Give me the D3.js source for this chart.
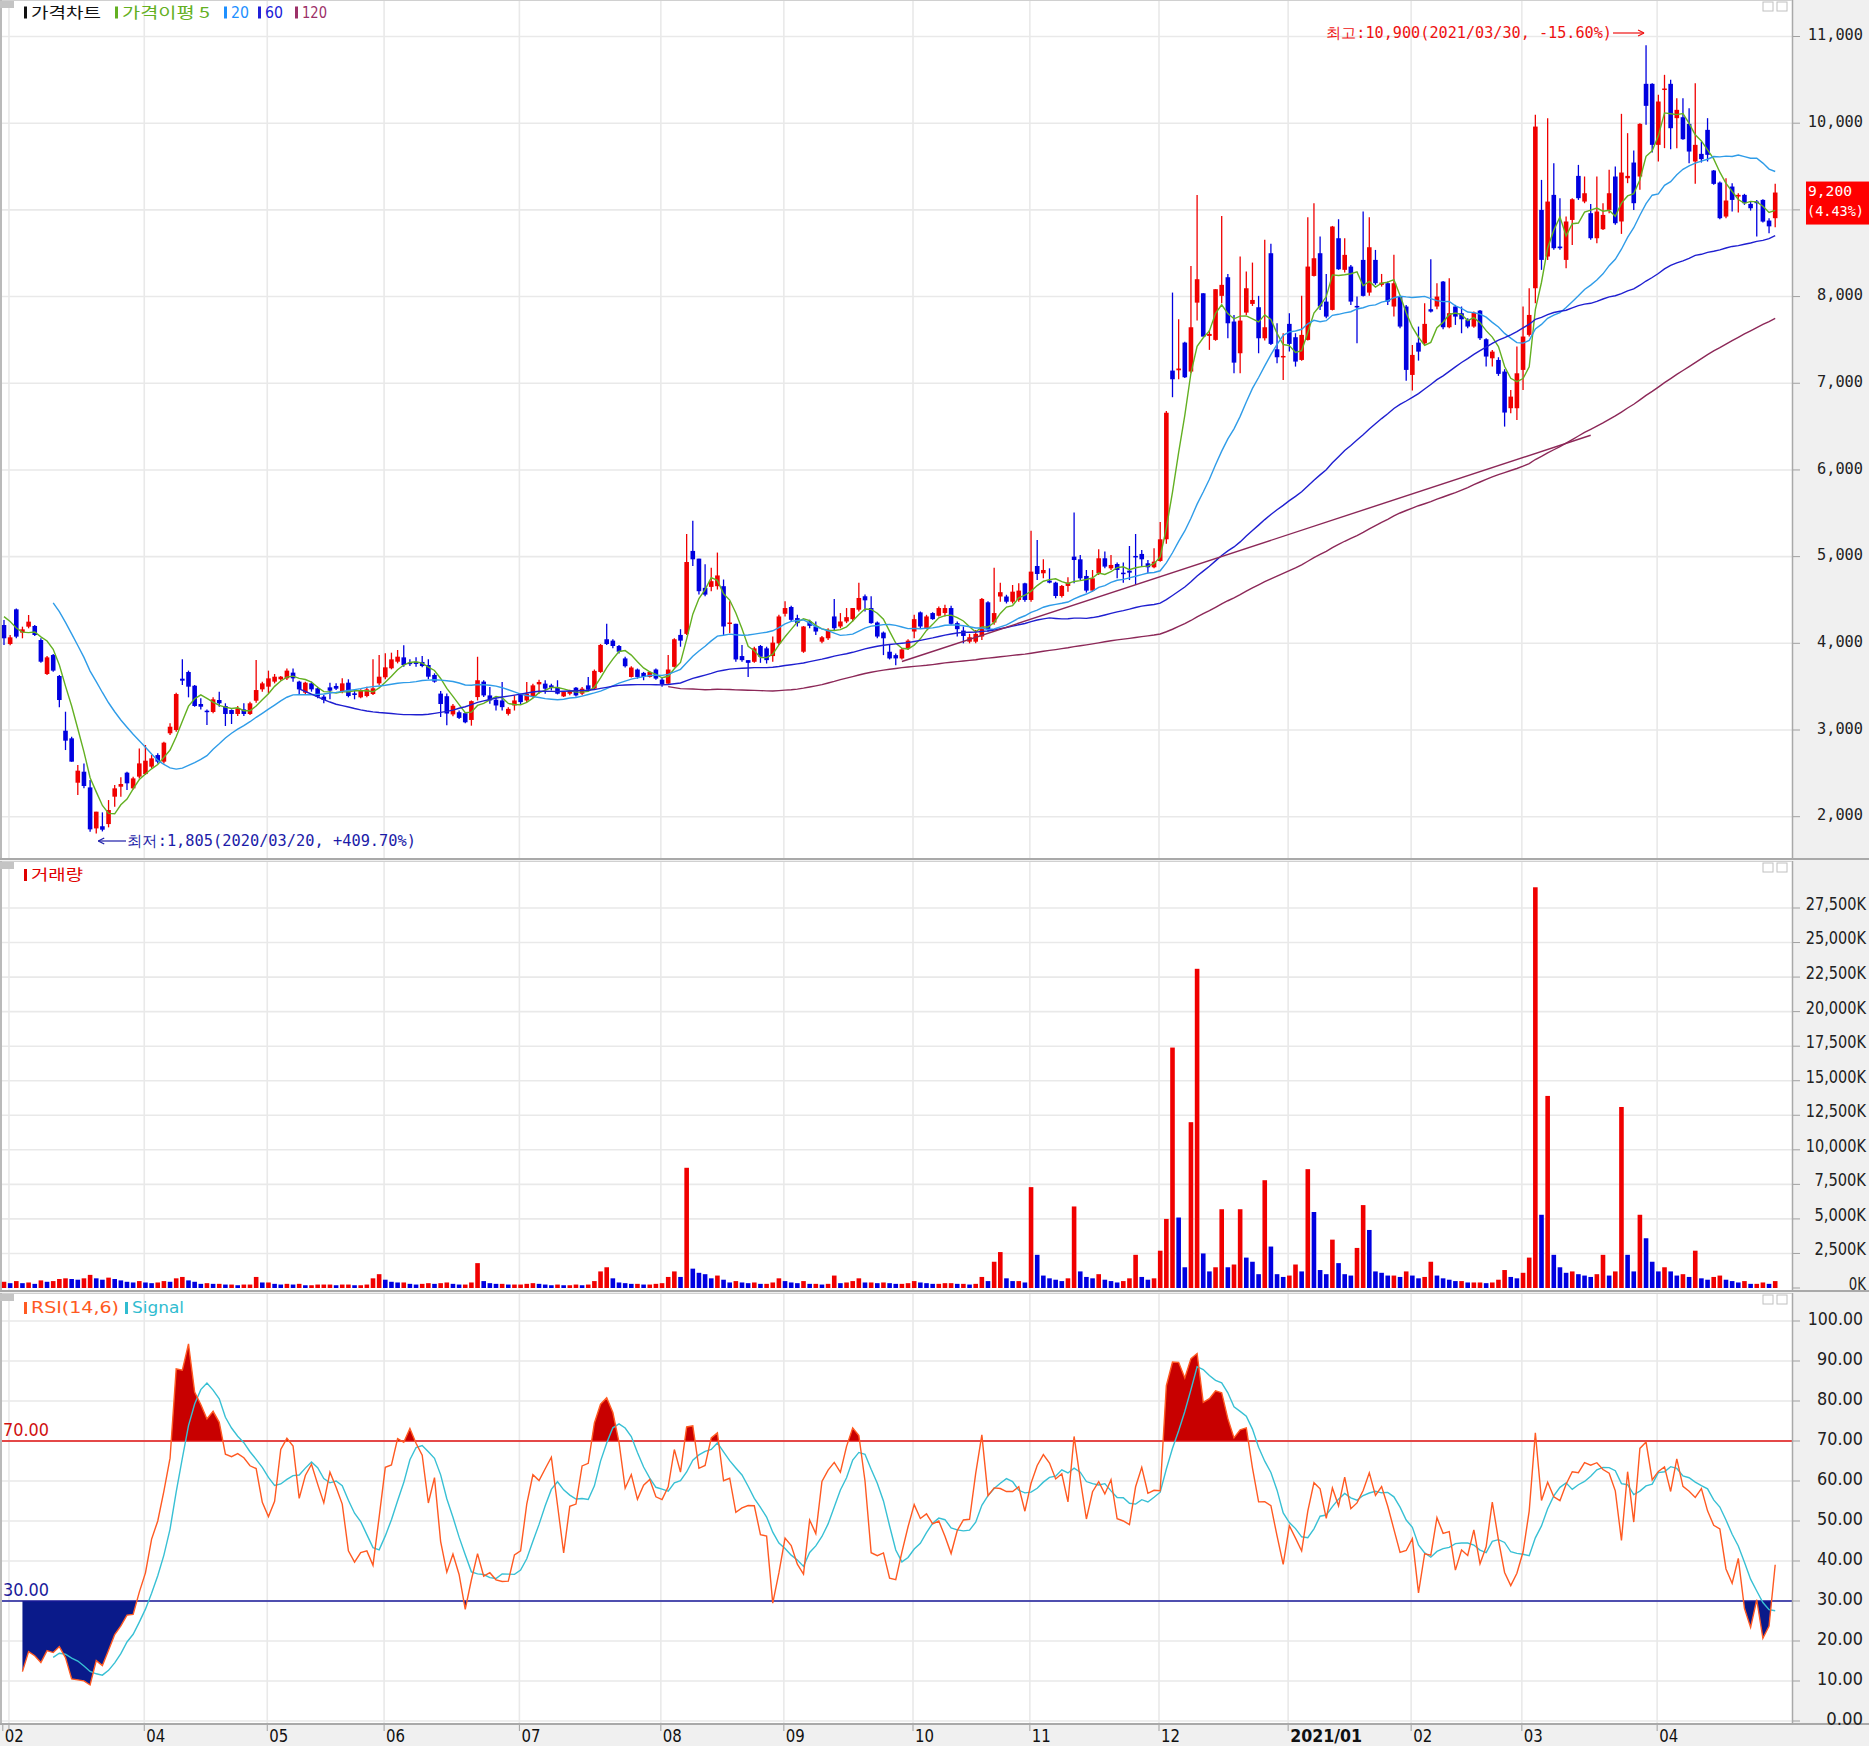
<!DOCTYPE html>
<html><head><meta charset="utf-8">
<script src="https://cdn.jsdelivr.net/npm/d3@7"></script>
<style>body{margin:0;background:#fff;}svg{display:block;}</style>
</head><body><svg id="c" width="1869" height="1746"></svg>
<script>
// ---------------- DATA ----------------
const monthLabels = ["02","03","04","05","06","07","08","09","10","11","12","2021/01","02","03","04"];
const monthDays   = [1,22,20,19,22,23,20,21,19,21,21,20,18,22,20];
// closes before the first visible candle (needed for moving averages / RSI)
const hiddenCloses = [5400,5350,5300,5200,5100,5000,4500,4350,4450,4400,4282];
const open = [4211,3992,4392,4123,4192,4200,4038,3646,3865,3623,
2992,2904,2392,2519,2338,1865,1890,1915,2231,2346,
2508,2327,2462,2492,2577,2711,2635,2962,3000,3592,
3669,3511,3300,3223,3208,3346,3277,3231,3185,3238,
3185,3338,3469,3500,3558,3585,3596,3662,3558,3431,
3538,3481,3385,3492,3508,3442,3546,3423,3377,3392,
3415,3538,3608,3712,3788,3838,3777,3785,3785,3750,
3635,3420,3390,3180,3205,3194,3116,3380,3558,3399,
3349,3341,3186,3283,3419,3341,3380,3527,3535,3515,
3488,3388,3419,3488,3419,3515,3477,3670,4047,4031,
3969,3826,3612,3698,3659,3612,3698,3581,3535,3729,
4097,4109,5066,4977,4640,4651,4659,4659,4225,4225,
3853,3806,3787,3969,3942,3853,4000,4341,4419,4291,
3903,4252,4194,4019,4058,4310,4194,4252,4279,4388,
4543,4407,4240,4124,3903,3864,3826,3942,4136,4357,
4174,4349,4318,4349,4407,4233,4147,4019,4019,4078,
4473,4240,4540,4540,4480,4500,4692,4500,4892,4808,
4723,4700,4546,4662,5000,4969,4777,4608,4808,4981,
4865,4915,4815,4838,5008,5031,4923,4877,4950,5200,
7146,7150,7469,7135,7930,8038,7546,7500,8008,8223,
7712,7346,7815,7915,7877,7519,8500,7392,7300,7685,
7531,7269,7500,8238,8500,7942,7846,8673,8308,8346,
7892,8423,8046,8423,8135,8154,7885,8000,7885,7096,
7469,7461,7854,7885,8173,7646,7885,7808,7731,7654,
7838,7508,7288,7269,7135,6712,6712,7154,7558,8096,
9000,8462,9173,8577,8423,8884,9392,9096,8962,8673,
8777,8999,9385,8866,9365,9546,9385,10454,10454,9750,
10385,10454,10058,10069,9992,9558,9646,9923,9454,9315,
8923,9269,9154,9173,9069,9096,9115,8877,8904];
const high = [4269,4096,4403,4192,4327,4211,4058,3854,3877,3635,
3211,2923,2596,2615,2423,2058,2050,2192,2365,2454,
2519,2462,2788,2827,2711,2731,2865,3077,3431,3815,
3685,3519,3365,3238,3377,3442,3308,3238,3277,3308,
3327,3808,3558,3685,3646,3623,3711,3711,3569,3558,
3558,3500,3404,3546,3538,3596,3585,3462,3469,3500,
3815,3865,3885,3892,3923,3977,3815,3838,3854,3815,
3654,3450,3420,3300,3225,3205,3341,3845,3574,3496,
3380,3554,3264,3399,3419,3554,3535,3581,3574,3535,
3574,3450,3465,3496,3496,3612,3698,3992,4225,4047,
3981,3845,3736,3709,3670,3682,3709,3605,3864,4058,
4163,5260,5415,4977,4911,4872,5047,4736,4485,4225,
3981,3806,3961,3981,3961,4078,4329,4485,4434,4330,
4200,4271,4252,4085,4174,4512,4349,4407,4407,4698,
4562,4543,4252,4136,3981,3884,3942,4047,4329,4368,
4329,4357,4426,4446,4434,4252,4194,4109,4155,4523,
4485,4872,4700,4560,4673,4692,4700,5300,5192,4969,
4865,4711,4673,4761,5508,5019,4846,4846,5085,5058,
5019,4931,4931,5123,5261,5077,4961,5096,5400,6680,
8046,7738,7480,8354,9173,8038,7615,8085,8930,8261,
7788,8462,8288,8392,8008,8654,8608,7692,7577,7808,
7577,8008,8915,9077,8692,8261,8815,8892,8673,8365,
8000,8981,8915,8538,8261,8173,8481,8010,7904,7442,
7654,7923,8431,8154,8180,8212,7904,7885,7750,7827,
7846,7519,7385,7300,7162,6923,7423,7885,8096,10096,
9346,10058,9538,9135,8923,9135,9519,9385,9069,9385,
9077,9462,9500,10108,9885,9685,10000,10900,10462,10327,
10558,10500,10288,10288,10173,10462,9788,10058,9460,9327,
9365,9308,9192,9185,9096,9115,9123,8904,9300];
const low = [3981,3977,4058,4058,4173,4085,3777,3634,3673,3262,
2769,2635,2250,2327,1827,1805,1830,1877,2115,2231,
2308,2315,2442,2481,2558,2615,2615,2942,2981,3519,
3377,3269,3238,3058,3192,3269,3046,3069,3161,3161,
3173,3315,3442,3423,3538,3569,3577,3558,3404,3404,
3442,3365,3308,3354,3462,3423,3377,3354,3365,3377,
3404,3519,3585,3700,3769,3731,3738,3731,3723,3585,
3546,3150,3055,3160,3128,3078,3050,3341,3380,3302,
3225,3225,3167,3225,3295,3322,3372,3419,3419,3457,
3411,3380,3400,3388,3400,3457,3465,3659,3981,3942,
3884,3721,3605,3593,3574,3605,3581,3500,3527,3721,
3961,4097,4891,4562,4543,4601,4620,4097,4116,3787,
3787,3612,3775,3775,3767,3787,3981,4310,4252,4194,
3890,4174,4097,4000,4039,4155,4174,4233,4252,4368,
4368,4225,4058,3864,3814,3748,3814,3922,4058,4174,
4163,4271,4310,4310,4213,4078,4000,4000,4000,4039,
4136,4213,4480,4460,4460,4480,4480,4480,4730,4750,
4692,4520,4530,4596,4692,4730,4585,4596,4788,4865,
4846,4750,4700,4730,4673,4885,4808,4865,4940,5150,
6839,7046,7060,7115,7723,7538,7385,7490,7923,7519,
7115,7115,7788,7892,7346,7492,7442,7231,7038,7365,
7192,7261,7492,8231,7846,7750,7840,8308,8277,7904,
7462,8000,8008,8135,8115,7904,7769,7635,7030,6915,
7261,7442,7815,7854,7623,7635,7673,7577,7635,7640,
7500,7192,7192,7085,6500,6654,6577,6923,7539,7923,
8308,8423,8539,8539,8327,8596,9115,9077,8654,8615,
8769,8962,8827,8723,9308,9000,9231,9981,9662,9558,
9712,9700,9712,9808,9538,9300,9546,9558,9290,8892,
8904,8981,8969,9058,8992,8692,8854,8731,8800];
const close = [4058,4069,4077,4161,4250,4096,3788,3838,3685,3346,
2877,2635,2531,2354,1854,2058,1850,2077,2327,2377,
2385,2442,2615,2646,2673,2635,2854,3038,3415,3569,
3500,3277,3269,3208,3354,3308,3185,3185,3250,3185,
3308,3461,3538,3596,3615,3615,3685,3596,3469,3546,
3469,3385,3346,3454,3477,3538,3392,3404,3462,3469,
3481,3615,3723,3815,3846,3750,3762,3762,3738,3615,
3558,3300,3190,3280,3140,3089,3333,3574,3399,3341,
3283,3264,3244,3341,3322,3419,3515,3554,3477,3488,
3419,3438,3450,3399,3477,3465,3682,3981,3992,3969,
3903,3736,3721,3612,3612,3670,3593,3527,3698,4047,
4031,4938,4969,4601,4562,4717,4783,4194,4240,3814,
3806,3775,3942,3845,3806,4008,4310,4407,4271,4233,
4194,4202,4136,4070,4155,4174,4252,4302,4407,4523,
4496,4233,4078,4058,3826,3826,3930,4031,4279,4194,
4310,4279,4407,4407,4225,4163,4085,4070,4109,4512,
4163,4349,4590,4480,4596,4608,4500,4827,4800,4846,
4700,4546,4662,4700,4961,4750,4608,4750,4981,4885,
4904,4846,4800,4815,4992,4969,4877,4942,5200,6660,
7046,7170,7069,7646,8200,7538,7569,8085,8135,7692,
7238,7723,8096,7961,7519,7646,7454,7300,7315,7454,
7250,7558,8346,8442,7885,7769,8808,8315,8481,7942,
7877,8008,8569,8154,8161,7942,8154,7654,7154,7327,
7365,7685,7827,8000,7646,7808,7769,7738,7654,7815,
7519,7308,7365,7108,6662,6846,7115,7539,7788,9961,
8423,9096,8558,8558,8866,9123,9135,9192,8673,8981,
8942,9192,8846,9431,9392,9077,9992,10200,9750,10250,
10400,9942,10154,9815,9673,9750,9585,9635,9300,8904,
9108,9115,9173,9077,9019,9077,8865,8810,9200];
// volume in thousands of shares
const volume = [450,350,500,350,400,300,550,450,500,650,
700,650,600,700,950,700,600,750,650,550,
450,400,500,400,350,400,500,450,700,800,
550,450,300,350,300,300,250,250,200,250,
250,800,400,400,300,250,300,250,300,200,
200,250,250,250,200,250,250,200,200,250,
700,1000,600,450,400,400,300,250,300,350,
300,350,400,300,250,250,400,1800,500,350,
300,300,250,250,250,300,350,300,250,200,
250,200,200,250,200,250,500,1200,1500,700,
400,350,300,300,250,250,300,350,800,1200,
800,8700,1400,1100,1000,700,900,600,400,500,
400,350,400,300,300,400,700,500,400,350,
500,300,300,250,300,900,350,400,500,700,
400,400,350,400,350,300,300,350,500,400,
350,300,300,350,350,300,300,250,300,800,
500,1900,2600,700,500,500,400,7300,2400,900,
700,600,500,700,5900,1200,800,700,1000,600,
500,400,500,700,2400,800,600,700,2700,5000,
17400,5100,1500,12000,23100,2500,1200,1500,5700,1500,
1700,5700,2200,1900,1000,7800,3000,1000,800,900,
1700,1200,8600,5500,1300,1000,3500,1800,1000,900,
2900,6000,4200,1200,1100,900,900,800,1200,900,
700,800,1900,900,700,600,500,500,400,400,
400,350,400,600,1300,800,700,1100,2200,29000,
5300,13900,2400,1500,1100,1200,1000,900,800,1000,
2400,900,1200,13100,2400,1200,5300,3600,1900,1200,
1500,1200,900,1000,800,2700,700,600,800,900,
600,500,400,500,300,300,400,300,500];
const priceTicks  = [2000,3000,4000,5000,6000,7000,8000,9000,10000,11000];
const volumeTicks = [0,2500,5000,7500,10000,12500,15000,17500,20000,22500,25000,27500];
const rsiTicks    = [0,10,20,30,40,50,60,70,80,90,100];
const maPeriods = [5,20,60,120];
const maColors  = ["#63b022","#2f9ce8","#1f1fd0","#8c2858"];
const trendLine = [{i:146,v:3790},{i:258,v:6400}];
const highMark = {i:267, v:10900, text:"최고:10,900(2021/03/30, -15.60%)"};
const lowMark  = {i:15,  v:1805,  text:"최저:1,805(2020/03/20, +409.70%)"};
const lastPrice = 9200;
const lastLabel = ["9,200","(4.43%)"];

// ---------------- LAYOUT ----------------
const W = 1869, H = 1746, PL = 2, PR = 1792;
const P1 = {top:0, bottom:858}, P2 = {top:861, bottom:1290}, P3 = {top:1293, bottom:1723};
const MONO = "'DejaVu Sans Mono','Liberation Mono',monospace";
const NARROW = "'Liberation Sans Narrow','DejaVu Sans Condensed','Liberation Sans',sans-serif";
const KR = "'Noto Sans CJK KR','Noto Sans',sans-serif";
const UP = "#f00000", DOWN = "#0000e0";

const svg = d3.select("#c");
const N = close.length;
const x = d3.scaleBand().domain(d3.range(N)).range([0.925, 0.925 + N*6.15]);
const cx = i => x(i) + x.bandwidth()/2;
const yP = d3.scaleLinear().domain([2000,11000]).range([816.7,36.5]);
const yV = d3.scaleLinear().domain([0,27500]).range([1288,908]);
const yR = d3.scaleLinear().domain([0,100]).range([1721,1321]);

// derived series
const allClose = hiddenCloses.concat(close);
const H0 = hiddenCloses.length;
function ma(n){ return close.map((_,i)=>{const j=i+H0; if(j-n+1<0) return null; return d3.mean(allClose.slice(j-n+1,j+1));}); }
const rsi = close.map((_,i)=>{const j=i+H0; if(j<14) return null; let u=0,d=0;
  for(let k=j-13;k<=j;k++){const df=allClose[k]-allClose[k-1]; if(df>0)u+=df; else d-=df;}
  return (u+d)===0?50:100*u/(u+d);});
const signal = rsi.map((v,i)=>{ if(i<5) return null; const w=rsi.slice(i-5,i+1); if(w.some(q=>q==null)) return null; return d3.mean(w);});

// month starts
const monthStart = []; {let s=0; monthDays.forEach(d=>{monthStart.push(s); s+=d;});}
const gx = i => cx(i) - 1.2;

// text helper: left-anchored text squeezed to an exact width
function txt(g, x0, y0, s, o){
  const t = g.append("text").attr("x",x0).attr("y",y0).attr("dy","0.35em")
    .attr("font-family",o.fam).attr("font-size",o.size).attr("fill",o.col)
    .attr("textLength",o.len).attr("lengthAdjust","spacingAndGlyphs").text(s);
  if (o.bold) t.attr("font-weight","bold");
  return t;
}

// backgrounds
svg.append("rect").attr("width",W).attr("height",H).attr("fill","#f0f0f0");
[P1,P2,P3].forEach(p=>{
  svg.append("rect").attr("x",PL).attr("y",p.top).attr("width",PR-PL).attr("height",p.bottom-p.top).attr("fill","#fff");
});
// gridlines
const grid = svg.append("g").attr("stroke","#e9e9e9").attr("stroke-width",1.6);
[P1,P2,P3].forEach(p=>{
  monthStart.forEach(s=>{ if(s===0) return; grid.append("line").attr("x1",gx(s)).attr("x2",gx(s)).attr("y1",p.top).attr("y2",p.bottom);});
});
priceTicks.forEach(v=>grid.append("line").attr("x1",PL).attr("x2",PR).attr("y1",yP(v)).attr("y2",yP(v)));
volumeTicks.forEach(v=>{ if(v>0) grid.append("line").attr("x1",PL).attr("x2",PR).attr("y1",yV(v)).attr("y2",yV(v));});
rsiTicks.forEach(v=>grid.append("line").attr("x1",PL).attr("x2",PR).attr("y1",yR(v)).attr("y2",yR(v)));

// ---------- price panel ----------
const gP = svg.append("g");
const cw = 4.6;
d3.range(N).forEach(i=>{
  const col = close[i]>=open[i]?UP:DOWN;
  gP.append("line").attr("x1",cx(i)).attr("x2",cx(i)).attr("y1",yP(high[i])).attr("y2",yP(low[i])).attr("stroke",col).attr("stroke-width",1.3);
  const t=yP(Math.max(open[i],close[i])), b=yP(Math.min(open[i],close[i]));
  gP.append("rect").attr("x",cx(i)-cw/2).attr("y",t).attr("width",cw).attr("height",Math.max(1.5,b-t)).attr("fill",col);
});
// moving averages
maPeriods.forEach((n,k)=>{
  const s = ma(n);
  const line = d3.line().defined(d=>d!=null).x((d,i)=>cx(i)).y(d=>yP(d));
  gP.append("path").datum(s).attr("d",line).attr("fill","none").attr("stroke",maColors[k]).attr("stroke-width",1.4);
});
// trend line
gP.append("line").attr("x1",cx(trendLine[0].i)).attr("y1",yP(trendLine[0].v)).attr("x2",cx(trendLine[1].i)).attr("y2",yP(trendLine[1].v))
  .attr("stroke",maColors[3]).attr("stroke-width",1.4);

// annotations
function arrowHead(g,x0,y0,dir,col){ g.append("path").attr("d",`M${x0},${y0} l${-6*dir},-3 M${x0},${y0} l${-6*dir},3`).attr("stroke",col).attr("stroke-width",1.2).attr("fill","none"); }
{
  const col="#ee1111", yy=33, xe=cx(highMark.i)-2;
  txt(gP,1326,yy,highMark.text,{fam:MONO,size:15,col:col,len:286});
  gP.append("line").attr("x1",1613).attr("x2",xe).attr("y1",yy).attr("y2",yy).attr("stroke",col).attr("stroke-width",1.2);
  arrowHead(gP,xe,yy,1,col);
}
{
  const col="#1c1ca8", yy=841, xs=cx(lowMark.i)+2;
  gP.append("line").attr("x1",xs).attr("x2",126).attr("y1",yy).attr("y2",yy).attr("stroke",col).attr("stroke-width",1.2);
  arrowHead(gP,xs,yy,-1,col);
  txt(gP,127,yy,lowMark.text,{fam:MONO,size:15,col:col,len:289});
}

// ---------- volume panel (red when volume rises vs previous day) ----------
const gV = svg.append("g");
d3.range(N).forEach(i=>{
  const col = (i===0 || volume[i]>=volume[i-1])?UP:DOWN;
  gV.append("rect").attr("x",cx(i)-cw/2).attr("y",yV(volume[i])).attr("width",cw).attr("height",yV(0)-yV(volume[i])).attr("fill",col);
});

// ---------- RSI panel ----------
const gR = svg.append("g");
const defs = svg.append("defs");
defs.append("clipPath").attr("id","clipHi").append("rect").attr("x",PL).attr("y",P3.top).attr("width",PR-PL).attr("height",yR(70)-P3.top);
defs.append("clipPath").attr("id","clipLo").append("rect").attr("x",PL).attr("y",yR(30)).attr("width",PR-PL).attr("height",P3.bottom-yR(30));
const areaHi = d3.area().defined(d=>d!=null).x((d,i)=>cx(i)).y0(yR(70)).y1(d=>yR(d));
const areaLo = d3.area().defined(d=>d!=null).x((d,i)=>cx(i)).y0(yR(30)).y1(d=>yR(d));
gR.append("path").datum(rsi).attr("d",areaHi).attr("fill","#c80000").attr("clip-path","url(#clipHi)");
gR.append("path").datum(rsi).attr("d",areaLo).attr("fill","#0a1a8a").attr("clip-path","url(#clipLo)");
gR.append("line").attr("x1",PL).attr("x2",PR).attr("y1",yR(70)).attr("y2",yR(70)).attr("stroke","#e01010").attr("stroke-width",1.4);
gR.append("line").attr("x1",PL).attr("x2",PR).attr("y1",yR(30)).attr("y2",yR(30)).attr("stroke","#1a1a9a").attr("stroke-width",1.4);
const lineR = d3.line().defined(d=>d!=null).x((d,i)=>cx(i)).y(d=>yR(d));
gR.append("path").datum(signal).attr("d",lineR).attr("fill","none").attr("stroke","#38c0d4").attr("stroke-width",1.4);
gR.append("path").datum(rsi).attr("d",lineR).attr("fill","none").attr("stroke","#ff5a22").attr("stroke-width",1.4);
txt(gR,3,yR(70)-11,"70.00",{fam:NARROW,size:17,col:"#d01010",len:46});
txt(gR,3,yR(30)-11,"30.00",{fam:NARROW,size:17,col:"#1a1a9a",len:46});

// ---------- frames ----------
const fr = svg.append("g").attr("stroke","#a9a9a9").attr("fill","none");
[P1,P2,P3].forEach(p=>{
  fr.append("line").attr("x1",0).attr("x2",W).attr("y1",p.bottom+1).attr("y2",p.bottom+1).attr("stroke-width",2);
  fr.append("line").attr("x1",PR+0.5).attr("x2",PR+0.5).attr("y1",p.top).attr("y2",p.bottom).attr("stroke-width",1.5);
  fr.append("line").attr("x1",1).attr("x2",1).attr("y1",p.top).attr("y2",p.bottom).attr("stroke-width",1.5);
  fr.append("line").attr("x1",PL).attr("x2",PR).attr("y1",p.top+0.5).attr("y2",p.top+0.5).attr("stroke","#d0d0d0");
  svg.append("rect").attr("x",0).attr("y",p.top+1).attr("width",14).attr("height",7).attr("fill","#c4c4c4");
  svg.append("rect").attr("x",1763).attr("y",p.top+2).attr("width",10).attr("height",9).attr("fill","#fff").attr("stroke","#c0c0c0");
  svg.append("rect").attr("x",1777).attr("y",p.top+2).attr("width",10).attr("height",9).attr("fill","#fff").attr("stroke","#c0c0c0");
});

// ---------- right axes ----------
const ax = svg.append("g");
function tick(y){ ax.append("line").attr("x1",PR+1).attr("x2",PR+8).attr("y1",y).attr("y2",y).attr("stroke","#a0a0a0"); }
const boxTop = yP(lastPrice)-11, boxBot = boxTop+42;
priceTicks.forEach(v=>{ tick(yP(v)); const s=d3.format(",")(v);
  const yy = yP(v)-2;
  if (yy > boxTop-8 && yy < boxBot+8) return; // hidden behind the last-price box
  const len = 9.2*s.length;
  txt(ax,1863-len,yy,s,{fam:MONO,size:16,col:"#222",len:len}); });
volumeTicks.forEach(v=>{ tick(yV(v)); const s=d3.format(",")(v)+"K";
  const len = 8.6*s.length;
  txt(ax,1866-len,yV(v)-4,s,{fam:NARROW,size:17,col:"#222",len:len}); });
rsiTicks.forEach(v=>{ tick(yR(v)); const s=v.toFixed(2);
  const len = 9.2*s.length;
  txt(ax,1863-len,yR(v)-2,s,{fam:NARROW,size:17,col:"#222",len:len}); });
// last price box
ax.append("rect").attr("x",1806).attr("y",boxTop).attr("width",63).attr("height",43).attr("fill","#ff0000");
txt(ax,1808,boxTop+10,lastLabel[0],{fam:MONO,size:14,col:"#fff",len:44});
txt(ax,1807,boxTop+30,lastLabel[1],{fam:MONO,size:14,col:"#fff",len:57});

// ---------- x axis ----------
let lastX = -100;
monthStart.forEach((s,k)=>{
  const xx = gx(s);
  ax.append("line").attr("x1",xx).attr("x2",xx).attr("y1",P3.bottom+2).attr("y2",P3.bottom+8).attr("stroke","#a0a0a0");
  if (xx - lastX < 40) return;
  lastX = xx;
  const s2 = monthLabels[k], bold = s2.length>2;
  txt(ax,Math.max(4,xx+2),1736,s2,{fam:NARROW,size:17,col:"#111",len:bold?72:19,bold:bold});
});

// ---------- legends ----------
function legendItem(g,x0,y0,col,s,len,fam){
  g.append("rect").attr("x",x0).attr("y",y0-6).attr("width",3).attr("height",12).attr("fill",col);
  txt(g,x0+7,y0,s,{fam:fam||KR,size:15,col:col,len:len});
}
const lg = svg.append("g");
legendItem(lg,24,12.5,"#111","가격차트",70);
legendItem(lg,115,12.5,maColors[0],"가격이평 5",88);
legendItem(lg,224,12.5,"#1e90ff","20",18,NARROW);
legendItem(lg,258,12.5,"#2020d8","60",18,NARROW);
legendItem(lg,295,12.5,"#9c3068","120",25,NARROW);
legendItem(lg,24,P2.top+14,"#e00000","거래량",52);
legendItem(lg,24,P3.top+15,"#ff5a22","RSI(14,6)",88,NARROW);
legendItem(lg,125,P3.top+15,"#30bcd0","Signal",52,NARROW);
</script></body></html>
